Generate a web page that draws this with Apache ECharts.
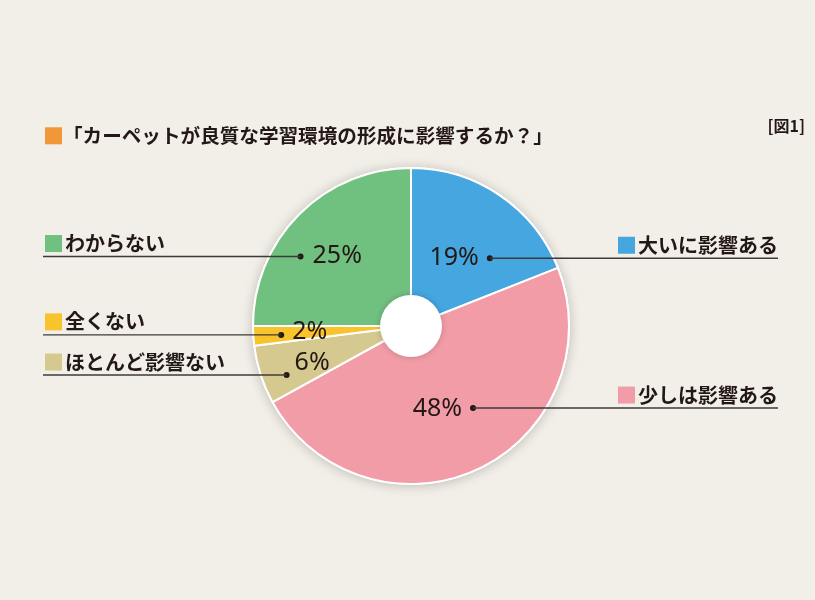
<!DOCTYPE html>
<html><head><meta charset="utf-8">
<script src="https://cdn.jsdelivr.net/npm/echarts@6/dist/echarts.min.js"></script>
<style>html,body{margin:0;padding:0;background:#f2efe8}#c{width:815px;height:600px}</style>
</head><body><div id="c"></div>
<script>
const categories = ['大いに影響ある', '少しは影響ある', 'ほとんど影響ない', '全くない', 'わからない'];
const values = [19, 48, 6, 2, 25];
const colors = ['#45a6e0', '#f19ca7', '#d5c98f', '#f9c32b', '#70c080'];
const titleText = '「カーペットが良質な学習環境の形成に影響するか？」';
const figLabel = '[図1]';

// layout settings
const C = [411, 326], R = 158, R0 = 31, RP = 94;
const dotShift = [[26, 10], [22, -3], [-35, 20], [-36, 3], [-44, -3]];
const textShift = [[-11, 0], [-11, 1], [8, -12], [11, -3], [12, -1]];
const LEFT_EDGE = 43, RIGHT_EDGE = 778;
const FONT_JP = '"Noto Sans CJK JP", "Noto Sans", sans-serif';
const INK = '#231815';

const total = values.reduce((a, b) => a + b, 0);
function mid(i) { let cum = 0; for (let k = 0; k < i; k++) cum += values[k]; return (cum + values[i] / 2) / total * 2 * Math.PI; }
function dotPos(i) { const a = mid(i); return [C[0] + RP * Math.sin(a) + dotShift[i][0], C[1] - RP * Math.cos(a) + dotShift[i][1]]; }
function isRight(i) { return Math.sin(mid(i)) > 0; }

const pieData = categories.map((n, i) => ({ name: n, value: values[i], itemStyle: { color: colors[i] } }));
const rich = { t: { fontSize: 20, fontFamily: FONT_JP, fontWeight: 'bold', color: INK, padding: [0, 0, 0, 3] } };
colors.forEach((c, i) => { rich['sq' + i] = { width: 17, height: 17, backgroundColor: c }; });

const chart = echarts.init(document.getElementById('c'));
const common = { center: C, startAngle: 90, clockwise: true, avoidLabelOverlap: false, emphasis: { disabled: true }, animation: false };
chart.setOption({
  backgroundColor: '#f2efe8',
  title: [
    { text: '{sq|}{t|' + titleText + '}', left: 45, top: 126, padding: 0,
      textStyle: { rich: { sq: { width: 17, height: 17, backgroundColor: '#f0973a' },
        t: { fontSize: 19.6, fontWeight: 'bold', color: INK, fontFamily: FONT_JP, padding: [0, 0, 0, 1] } } } },
    { text: figLabel, right: 10, top: 118, padding: 0, textStyle: { fontSize: 16, fontWeight: 'bold', color: INK, fontFamily: FONT_JP } }
  ],
  series: [
    Object.assign({}, common, { type: 'pie', silent: true, radius: [0, R + 1], z: 1,
      data: [{ value: 1, name: 'base' }], label: { show: false }, labelLine: { show: false },
      itemStyle: { color: '#ffffff', shadowBlur: 12, shadowColor: 'rgba(0,0,0,0.22)', shadowOffsetY: 1 } }),
    Object.assign({}, common, { type: 'pie', silent: true, radius: [0, R], z: 2,
      data: pieData,
      itemStyle: { borderColor: '#ffffff', borderWidth: 2 },
      label: { show: true, position: 'inside', formatter: '{c}%', fontSize: 25, color: INK, fontFamily: '"Noto Sans", sans-serif' },
      labelLine: { show: false },
      labelLayout: function (p) {
        const i = p.dataIndex, d = dotPos(i), s = textShift[i];
        return { x: d[0] + s[0], y: d[1] + s[1], align: isRight(i) ? 'right' : 'left', verticalAlign: 'middle' };
      } }),
    Object.assign({}, common, { type: 'pie', silent: true, radius: [0, R0], z: 3,
      data: [{ value: 1, name: 'hole' }], label: { show: false }, labelLine: { show: false },
      itemStyle: { color: '#ffffff', shadowBlur: 6, shadowColor: 'rgba(0,0,0,0.2)' } }),
    Object.assign({}, common, { type: 'pie', silent: true, radius: [0, R], z: 4,
      data: pieData.map(d => ({ name: d.name, value: d.value })),
      itemStyle: { color: 'rgba(0,0,0,0)' },
      label: { show: true, position: 'inside', formatter: '{d| }',
        rich: { d: { width: 6, height: 6, borderRadius: 3, backgroundColor: INK, fontSize: 1, lineHeight: 6 } } },
      labelLine: { show: false },
      labelLayout: function (p) {
        const d = dotPos(p.dataIndex);
        return { x: d[0], y: d[1], align: 'center', verticalAlign: 'middle' };
      } }),
    Object.assign({}, common, { type: 'pie', silent: true, radius: [0, R], z: 5,
      data: pieData.map(d => ({ name: d.name, value: d.value })),
      itemStyle: { color: 'rgba(0,0,0,0)' },
      label: { show: true, position: 'outside', formatter: p => '{sq' + p.dataIndex + '|}{t|' + p.name + '}', rich: rich },
      labelLine: { show: true, length: 10, length2: 10, lineStyle: { color: '#3e3a39', width: 1.4 } },
      labelLayout: function (p) {
        const i = p.dataIndex, d = dotPos(i), r = isRight(i);
        const ex = r ? RIGHT_EDGE : LEFT_EDGE;
        return { x: r ? RIGHT_EDGE : LEFT_EDGE + 2, y: d[1] - 13, align: r ? 'right' : 'left', verticalAlign: 'middle',
          labelLinePoints: [[d[0], d[1]], [d[0], d[1]], [ex, d[1]]] };
      } })
  ]
});
</script></body></html>
